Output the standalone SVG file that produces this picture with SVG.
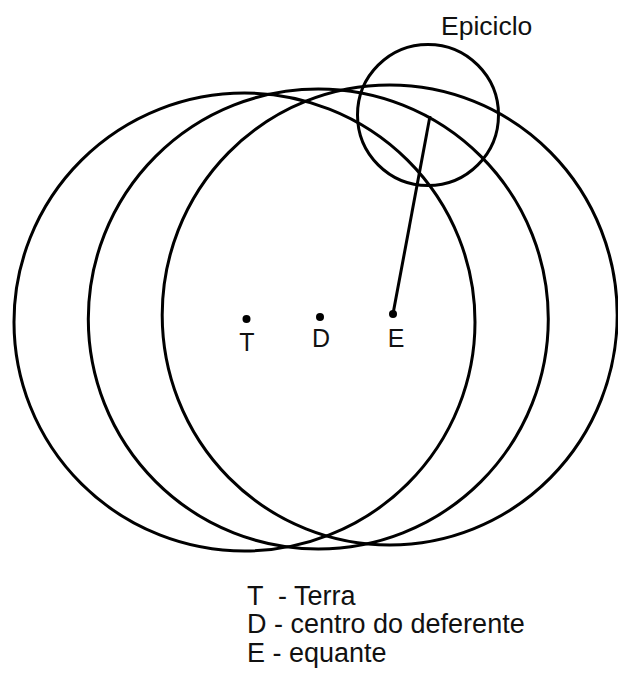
<svg xmlns="http://www.w3.org/2000/svg" width="618" height="678" viewBox="0 0 618 678">
<style>
.orb{fill:none;stroke:#000;stroke-width:3}
.dot{fill:#000}
.lbl{font-family:"Liberation Sans",Arial,sans-serif;fill:#111}
</style>
<rect width="618" height="678" fill="#fff"/>
<g id="orbits">
<ellipse id="circle-T" class="orb" cx="244.5" cy="322" rx="230.5" ry="229"/>
<ellipse id="circle-D" class="orb" cx="318.3" cy="319" rx="230" ry="230"/>
<ellipse id="circle-E" class="orb" cx="389.7" cy="315" rx="227.5" ry="230"/>
</g>
<g id="epiciclo">
<circle class="orb" cx="428" cy="115" r="70.5"/>
<text class="lbl" x="441" y="35" font-size="26.5">Epiciclo</text>
</g>
<g id="connectors">
<line x1="393" y1="314" x2="430" y2="116" stroke="#000" stroke-width="3"/>
</g>
<g id="node-T">
<circle class="dot" cx="246.5" cy="319" r="4"/>
<text class="lbl" x="247" y="351" font-size="25" text-anchor="middle">T</text>
</g>
<g id="node-D">
<circle class="dot" cx="320" cy="317" r="4"/>
<text class="lbl" x="321" y="347" font-size="25" text-anchor="middle">D</text>
</g>
<g id="node-E">
<circle class="dot" cx="393" cy="314" r="4"/>
<text class="lbl" x="396" y="347" font-size="25" text-anchor="middle">E</text>
</g>
<g id="legend" class="lbl" font-size="27">
<text x="247" y="605" xml:space="preserve">T  - Terra</text>
<text x="247" y="633">D - centro do deferente</text>
<text x="247" y="662">E - equante</text>
</g>
</svg>
